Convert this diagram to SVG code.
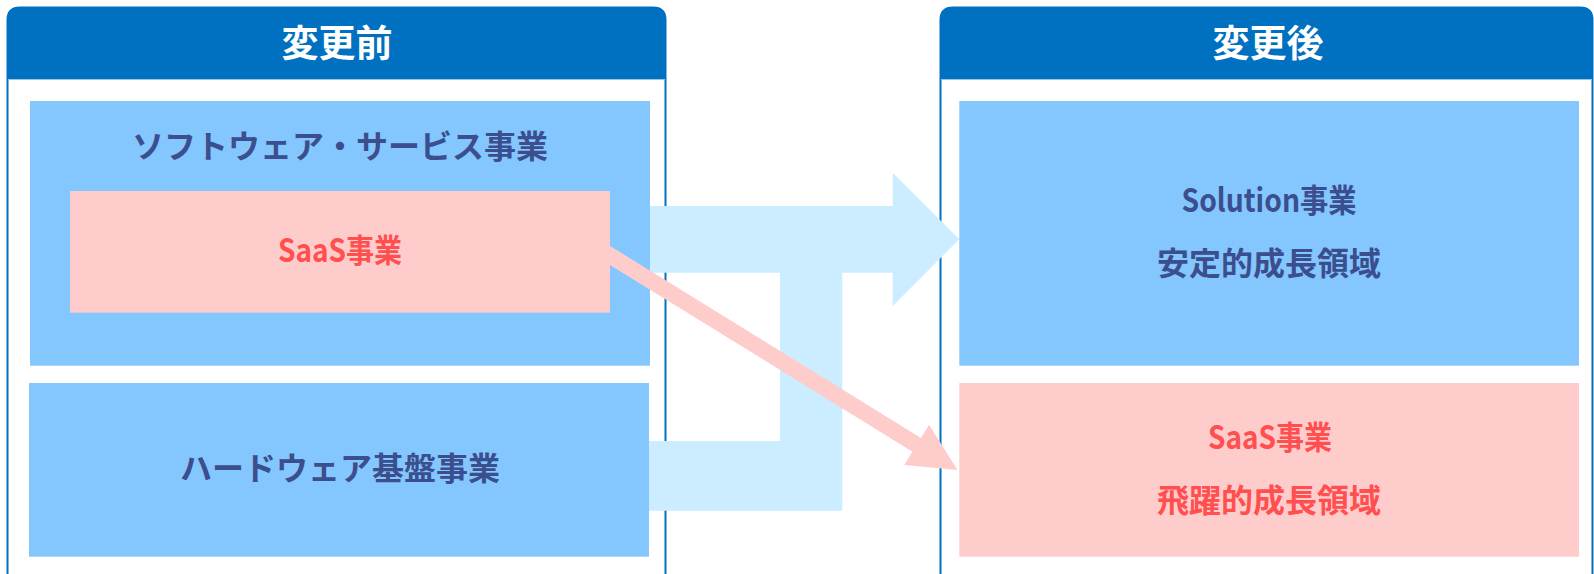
<svg xmlns="http://www.w3.org/2000/svg" width="1594" height="574" viewBox="0 0 1594 574">
<style>
.panel{fill:#FFFFFF;stroke:#0070C0;stroke-width:2}
.hdr{fill:#0070C0}
.hdrline{stroke:#9DC3E6;stroke-width:1}
.htxt{font-family:"Noto Sans CJK JP","Liberation Sans",sans-serif;font-weight:bold;font-size:37px;fill:#FFFFFF;text-anchor:middle;dominant-baseline:central}
.blue{fill:#84C6FE}
.pink{fill:#FFCCCC}
.t{font-family:"Noto Sans CJK JP","Liberation Sans",sans-serif;font-weight:bold;font-size:32px;text-anchor:middle;dominant-baseline:central}
.dk{fill:#3B4E8D}
.rd{fill:#FF4F4F}
.arrowB{fill:#CCECFF}
.arrowP{fill:#FFCCCC}
</style>
<g id="panel-before">
<path class="panel" d="M7.5,580 V20 Q7.5,7.5 20,7.5 H653 Q665.5,7.5 665.5,20 V580"/>
<path class="hdr" d="M7,79 V20 Q7,7 20,7 H653 Q666,7 666,20 V79 Z"/>
<line class="hdrline" x1="8" y1="79.5" x2="665" y2="79.5"/>
<text class="htxt" x="337" y="41">変更前</text>
</g>
<g id="panel-after">
<path class="panel" d="M940.5,580 V20 Q940.5,7.5 953,7.5 H1580 Q1592.5,7.5 1592.5,20 V580"/>
<path class="hdr" d="M940,79 V20 Q940,7 953,7 H1580 Q1593,7 1593,20 V79 Z"/>
<line class="hdrline" x1="941" y1="79.5" x2="1592" y2="79.5"/>
<text class="htxt" x="1268" y="41">変更後</text>
</g>
<g id="node-software">
<rect class="blue" x="30" y="101" width="620" height="264.7"/>
<text class="t dk" x="340" y="144">ソフトウェア・サービス事業</text>
</g>
<g id="node-saas-before">
<rect class="pink" x="70" y="191" width="540" height="121.7"/>
<text class="t rd" x="340" y="248" textLength="124" lengthAdjust="spacingAndGlyphs">SaaS事業</text>
</g>
<g id="node-hardware">
<rect class="blue" x="29" y="383" width="620" height="173.7"/>
<text class="t dk" x="340" y="466">ハードウェア基盤事業</text>
</g>
<g id="node-solution">
<rect class="blue" x="959.3" y="101" width="619.7" height="264.7"/>
<text class="t dk" x="1269" y="198" textLength="175" lengthAdjust="spacingAndGlyphs">Solution事業</text>
<text class="t dk" x="1269" y="261">安定的成長領域</text>
</g>
<g id="node-saas-after">
<rect class="pink" x="959.3" y="383" width="619.7" height="173.7"/>
<text class="t rd" x="1270" y="435" textLength="124" lengthAdjust="spacingAndGlyphs">SaaS事業</text>
<text class="t rd" x="1269" y="498">飛躍的成長領域</text>
</g>
<g id="connectors">
<polygon class="arrowB" points="650,206 892.7,206 892.7,172.7 959.3,239.3 892.7,306 892.7,272.7 842.3,272.7 842.3,510.7 649,510.7 649,441 780,441 780,272.7 650,272.7"/>
<polygon class="arrowP" points="604.3,242.4 921,437.9 929.1,424.7 957.5,470 904.3,464.9 912.4,451.7 595.7,256.2"/>
</g>
</svg>
